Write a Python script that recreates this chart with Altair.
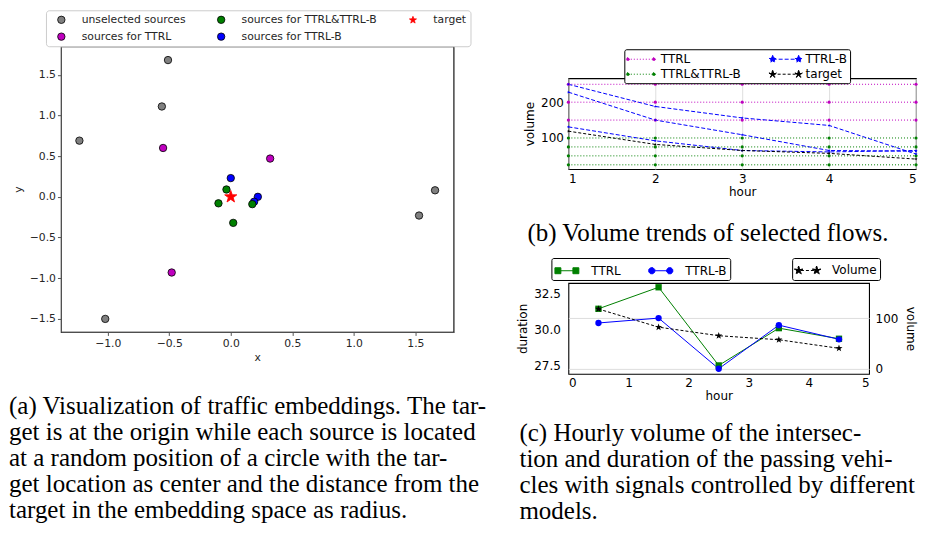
import math
import altair as alt
import pandas as pd

FONT = "DejaVu Sans"
SERIF = "Liberation Serif"

# ---------------- (a) traffic embeddings ----------------
emb_group = (["unselected sources"] * 6 + ["sources for TTRL"] * 3 +
             ["sources for TTRL-B"] * 3 + ["sources for TTRL&TTRL-B"] * 4 + ["target"])
emb_x = [-0.51, -0.56, -1.23, -1.02, 1.53, 1.66,
         -0.55, 0.32, -0.48,
         0.00, 0.22, 0.19,
         -0.035, -0.10, 0.175, 0.02,
         0.0]
emb_y = [1.68, 1.11, 0.69, -1.50, -0.23, 0.08,
         0.60, 0.47, -0.93,
         0.23, 0.00, -0.06,
         0.09, -0.08, -0.09, -0.32,
         0.0]
emb_order = ["unselected sources", "sources for TTRL", "sources for TTRL&TTRL-B",
             "sources for TTRL-B", "target"]
emb_colors = ["#808080", "#bf00bf", "#008000", "#0000ff", "#ff0000"]
emb_edges = ["#000000", "#000000", "#000000", "#000000", "#ff0000"]
a_xticks = [-1.0, -0.5, 0.0, 0.5, 1.0, 1.5]
a_yticks = [-1.5, -1.0, -0.5, 0.0, 0.5, 1.0, 1.5]

# ---------------- (b) volume trends ----------------
b_hours = [1, 2, 3, 4, 5]
b_flow_group = ["TTRL", "TTRL", "TTRL",
                "TTRL&TTRL-B", "TTRL&TTRL-B", "TTRL&TTRL-B", "TTRL&TTRL-B",
                "TTRL-B", "TTRL-B", "TTRL-B", "target"]
b_flow_volume = [
    [250, 250, 250, 250, 250],
    [200, 200, 200, 200, 200],
    [150, 150, 150, 150, 150],
    [100, 100, 100, 100, 100],
    [75, 75, 75, 75, 75],
    [50, 50, 50, 50, 50],
    [25, 25, 25, 25, 25],
    [250, 188, 156, 135, 55],
    [228, 150, 109, 65, 63],
    [131, 92, 65, 61, 65],
    [119, 82, 65, 57, 41],
]
b_order = ["TTRL", "TTRL&TTRL-B", "TTRL-B", "target"]
b_colors = ["#bf00bf", "#008000", "#0000ff", "#000000"]
b_dashes = [[1, 2], [1, 2], [4, 2], [3, 2]]
b_sizes = [10, 10, 50, 50]

# ---------------- (c) hourly volume & duration ----------------
c_hours = [0.5, 1.5, 2.5, 3.5, 4.5]
c_dur_ttrl = [31.45, 32.95, 27.50, 30.10, 29.36]
c_dur_ttrlb = [30.46, 30.80, 27.27, 30.31, 29.32]
c_volume = [118, 82, 65, 57, 40]
c_models = ["TTRL", "TTRL-B"]
c_colors = ["#008000", "#0000ff"]

cap_a = ["(a) Visualization of traffic embeddings. The tar-",
         "get is at the origin while each source is located",
         "at a random position of a circle with the tar-",
         "get location as center and the distance from the",
         "target in the embedding space as radius."]
cap_b = "(b) Volume trends of selected flows."
cap_c = ["(c) Hourly volume of the intersec-",
         "tion and duration of the passing vehi-",
         "cles with signals controlled by different",
         "models."]


# ---------- glyph helpers (marker shapes, style only) ----------
def star_path(cx, r_out, r_in):
    pts = []
    for k in range(10):
        ang = -math.pi / 2 + k * math.pi / 5
        r = r_out if k % 2 == 0 else r_in
        pts.append((cx + r * math.cos(ang), r * math.sin(ang)))
    return "M" + "L".join(f"{x:.3f},{y:.3f}" for x, y in pts) + "Z"


def oct_path(cx, r):
    pts = []
    for k in range(8):
        ang = k * math.pi / 4 + math.pi / 8
        pts.append((cx + r * math.cos(ang), r * math.sin(ang)))
    return "M" + "L".join(f"{x:.3f},{y:.3f}" for x, y in pts) + "Z"


def sq_path(cx, h):
    return f"M{cx - h:.3f},{-h:.3f}H{cx + h:.3f}V{h:.3f}H{cx - h:.3f}Z"


STAR = star_path(0, 1.0, 0.4)
emb_shapes = ["circle", "circle", "circle", "circle", STAR]
b_shapes = ["circle", "circle", STAR, STAR]

IND = dict(color="independent", shape="independent", strokeDash="independent",
           size="independent", stroke="independent")

# ---------------- chart (a) ----------------
df_a = pd.DataFrame({"x": emb_x, "y": emb_y, "group": emb_group})

legend_a = alt.Legend(
    title=None, orient="none", legendX=-15, legendY=-36, columns=3,
    columnPadding=24, rowPadding=5, padding=4, symbolSize=55,
    symbolOffset=6, labelOffset=15, labelFont=FONT, labelFontSize=10.8,
    labelColor="#262626", strokeColor="#cccccc", fillColor="white",
    cornerRadius=3, labelLimit=300, symbolStrokeWidth=0.8,
)

ax_a = dict(grid=False, labelFont=FONT, titleFont=FONT, labelFontSize=10.8,
            titleFontSize=10.8, labelColor="#262626", titleColor="#262626",
            titleFontWeight="normal", tickColor="#555555", domainColor="#555555",
            tickSize=3.5, labelPadding=2, format=".1f")

chart_a = alt.Chart(df_a).mark_point(filled=True, opacity=1, strokeWidth=0.8).encode(
    x=alt.X("x:Q", scale=alt.Scale(domain=[-1.38, 1.81], nice=False, zero=False),
            axis=alt.Axis(values=a_xticks, title="x", titlePadding=3, **ax_a)),
    y=alt.Y("y:Q", scale=alt.Scale(domain=[-1.66, 1.85], nice=False, zero=False),
            axis=alt.Axis(values=a_yticks, title="y", titlePadding=6, **ax_a)),
    color=alt.Color("group:N", scale=alt.Scale(domain=emb_order, range=emb_colors), legend=legend_a),
    shape=alt.Shape("group:N", scale=alt.Scale(domain=emb_order, range=emb_shapes), legend=legend_a),
    stroke=alt.Stroke("group:N", scale=alt.Scale(domain=emb_order, range=emb_edges), legend=legend_a),
    size=alt.condition(alt.datum.group == "target", alt.value(165), alt.value(55)),
).properties(
    width=393, height=286,
    title=alt.TitleParams(text=cap_a, orient="bottom", anchor="start", frame="group",
                          dx=-52, offset=32, font=SERIF, fontSize=25, fontWeight="normal",
                          lineHeight=26, color="black"),
)

# ---------------- chart (b) ----------------
rows = []
for fid, (g, vols) in enumerate(zip(b_flow_group, b_flow_volume)):
    for h, v in zip(b_hours, vols):
        rows.append({"flow": fid, "group": g, "hour": h, "volume": v})
df_b = pd.DataFrame(rows)

P_DOTS = "M-2,0H2" + oct_path(-2, 0.25) + oct_path(2, 0.25)
P_STARS = "M-2,0H2" + star_path(-2, 0.6, 0.25) + star_path(2, 0.6, 0.25)
b_leg_shapes = [P_DOTS, P_DOTS, P_STARS, P_STARS]

legend_b = alt.Legend(
    title=None, orient="none", legendX=56, legendY=-29, columns=2,
    columnPadding=25, rowPadding=2, padding=3, symbolSize=169, symbolOffset=6.5,
    labelOffset=13, labelFont=FONT, labelFontSize=12, labelColor="black",
    strokeColor="black", fillColor="white", cornerRadius=2, labelLimit=300,
    symbolStrokeWidth=1,
)

ax_bc = dict(labelFont=FONT, titleFont=FONT, labelFontSize=12, titleFontSize=12,
             labelColor="black", titleColor="black", titleFontWeight="normal",
             ticks=False, domain=False)

xb = alt.X("hour:Q", scale=alt.Scale(domain=[1, 5], nice=False, zero=False),
           axis=alt.Axis(values=b_hours, format="d", title="hour", grid=True,
                         gridColor="#d4d4d4", gridWidth=0.8, labelPadding=4,
                         titlePadding=2, **ax_bc))
yb = alt.Y("volume:Q", scale=alt.Scale(domain=[13, 267], nice=False, zero=False),
           axis=alt.Axis(values=[100, 200], format="d", title="volume", grid=False,
                         labelPadding=5, titlePadding=4, **ax_bc))

b_lines = alt.Chart(df_b).mark_line(strokeWidth=1).encode(
    x=xb, y=yb,
    color=alt.Color("group:N", scale=alt.Scale(domain=b_order, range=b_colors), legend=None),
    strokeDash=alt.StrokeDash("group:N", scale=alt.Scale(domain=b_order, range=b_dashes), legend=None),
    detail="flow:N",
)
b_pts = alt.Chart(df_b).mark_point(filled=True, opacity=1).encode(
    x=xb, y=yb,
    color=alt.Color("group:N", scale=alt.Scale(domain=b_order, range=b_colors), legend=None),
    shape=alt.Shape("group:N", scale=alt.Scale(domain=b_order, range=b_shapes), legend=None),
    size=alt.Size("group:N", scale=alt.Scale(domain=b_order, range=b_sizes), legend=None),
)
b_leg = alt.Chart(df_b).transform_filter("false").mark_point(
    filled=True, opacity=1, strokeWidth=1).encode(
    x=xb, y=yb,
    color=alt.Color("group:N", scale=alt.Scale(domain=b_order, range=b_colors), legend=legend_b),
    stroke=alt.Stroke("group:N", scale=alt.Scale(domain=b_order, range=b_colors), legend=legend_b),
    strokeDash=alt.StrokeDash("group:N", scale=alt.Scale(domain=b_order, range=b_dashes), legend=legend_b),
    shape=alt.Shape("group:N", scale=alt.Scale(domain=b_order, range=b_leg_shapes), legend=legend_b),
)
chart_b = alt.layer(b_lines, b_pts, b_leg).resolve_scale(**IND).properties(
    width=348, height=91,
    title=alt.TitleParams(text=cap_b, orient="bottom", anchor="start", frame="group",
                          dx=-41, offset=24, font=SERIF, fontSize=25, fontWeight="normal",
                          lineHeight=26, color="black"),
)

# ---------------- chart (c) ----------------
df_c = pd.DataFrame({"hour": c_hours * 2, "duration": c_dur_ttrl + c_dur_ttrlb,
                     "model": ["TTRL"] * 5 + ["TTRL-B"] * 5})
df_v = pd.DataFrame({"hour": c_hours, "volume": c_volume, "series": ["Volume"] * 5})

P_SQ = "M-1.3,0H1.3" + sq_path(-1, 0.33) + sq_path(1, 0.33)
P_CI = "M-1.3,0H1.3" + oct_path(-1, 0.36) + oct_path(1, 0.36)
P_ST = "M-1.3,0H1.3" + star_path(-1, 0.5, 0.2) + star_path(1, 0.5, 0.2)

legend_c1 = alt.Legend(
    title=None, orient="none", legendX=-17, legendY=-25, direction="horizontal",
    columnPadding=25, padding=3, symbolSize=324, symbolOffset=3, labelOffset=15,
    labelFont=FONT, labelFontSize=12, labelColor="black", strokeColor="black",
    fillColor="white", cornerRadius=2, symbolStrokeWidth=1,
)
legend_c2 = alt.Legend(
    title=None, orient="none", legendX=224, legendY=-25, direction="horizontal",
    padding=3, symbolSize=324, symbolOffset=3, labelOffset=15,
    labelFont=FONT, labelFontSize=12, labelColor="black", strokeColor="black",
    fillColor="white", cornerRadius=2, symbolStrokeWidth=1,
)

xc = alt.X("hour:Q", scale=alt.Scale(domain=[0, 5], nice=False, zero=False),
           axis=alt.Axis(values=[0, 1, 2, 3, 4, 5], format="d", title="hour", grid=False,
                         labelPadding=4, titlePadding=2, **ax_bc))
yc = alt.Y("duration:Q", scale=alt.Scale(domain=[26.91, 33.25], nice=False, zero=False),
           axis=alt.Axis(values=[27.5, 30.0, 32.5], format=".1f", title="duration",
                         grid=False, labelPadding=8, titlePadding=4, **ax_bc))
yv = alt.Y("volume:Q", scale=alt.Scale(domain=[-10.7, 169.6], nice=False, zero=False),
           axis=alt.Axis(values=[0, 100], format="d", title="volume", orient="right",
                         grid=True, gridColor="#dddddd", gridWidth=1, labelPadding=6,
                         titlePadding=6, **ax_bc))

c_lines = alt.Chart(df_c).mark_line(strokeWidth=1).encode(
    x=xc, y=yc,
    color=alt.Color("model:N", scale=alt.Scale(domain=c_models, range=c_colors), legend=None),
)
c_pts = alt.Chart(df_c).mark_point(filled=True, opacity=1, size=40).encode(
    x=xc, y=yc,
    color=alt.Color("model:N", scale=alt.Scale(domain=c_models, range=c_colors), legend=None),
    shape=alt.Shape("model:N", scale=alt.Scale(domain=c_models, range=["square", "circle"]),
                    legend=None),
)
c_leg = alt.Chart(df_c).transform_filter("false").mark_point(
    filled=True, opacity=1, strokeWidth=1).encode(
    x=xc, y=yc,
    color=alt.Color("model:N", scale=alt.Scale(domain=c_models, range=c_colors), legend=legend_c1),
    stroke=alt.Stroke("model:N", scale=alt.Scale(domain=c_models, range=c_colors), legend=legend_c1),
    shape=alt.Shape("model:N", scale=alt.Scale(domain=c_models, range=[P_SQ, P_CI]), legend=legend_c1),
)
v_line = alt.Chart(df_v).mark_line(strokeWidth=1, color="black", strokeDash=[3, 2]).encode(
    x=xc, y=yv)
v_pts = alt.Chart(df_v).mark_point(filled=True, opacity=1, size=55, shape=STAR,
                                   color="black").encode(x=xc, y=yv)
v_leg = alt.Chart(df_v).transform_filter("false").mark_point(
    filled=True, opacity=1, strokeWidth=1).encode(
    x=xc, y=yv,
    color=alt.Color("series:N", scale=alt.Scale(domain=["Volume"], range=["#000000"]), legend=legend_c2),
    stroke=alt.Stroke("series:N", scale=alt.Scale(domain=["Volume"], range=["#000000"]), legend=legend_c2),
    strokeDash=alt.StrokeDash("series:N", scale=alt.Scale(domain=["Volume"], range=[[3, 2]]), legend=legend_c2),
    shape=alt.Shape("series:N", scale=alt.Scale(domain=["Volume"], range=[P_ST]), legend=legend_c2),
)

dur_layer = alt.layer(c_lines, c_pts, c_leg).resolve_scale(**IND)
vol_layer = alt.layer(v_line, v_pts, v_leg).resolve_scale(**IND)
chart_c = alt.layer(dur_layer, vol_layer).resolve_scale(y="independent", **IND).properties(
    width=301, height=91,
    title=alt.TitleParams(text=cap_c, orient="bottom", anchor="start", frame="group",
                          dx=-49, offset=19, font=SERIF, fontSize=25, fontWeight="normal",
                          lineHeight=26, color="black"),
)

# ---------------- layout ----------------
spacer = alt.Chart(pd.DataFrame({"v": [0]})).mark_point(opacity=0, size=1).encode(
    x=alt.X("v:Q", axis=None), y=alt.Y("v:Q", axis=None)
).properties(width=1, height=1, view=alt.ViewBackground(strokeOpacity=0))

right_inner = alt.vconcat(chart_b, chart_c, spacing=9).resolve_scale(**IND)
right = alt.vconcat(spacer, right_inner, spacing=0).resolve_scale(**IND)
chart = alt.hconcat(chart_a, right, spacing=27).resolve_scale(**IND).properties(
    padding=0
).configure_view(stroke="black", strokeWidth=1.1)

chart.save("out.html", embed_options={"renderer": "svg", "actions": False})
